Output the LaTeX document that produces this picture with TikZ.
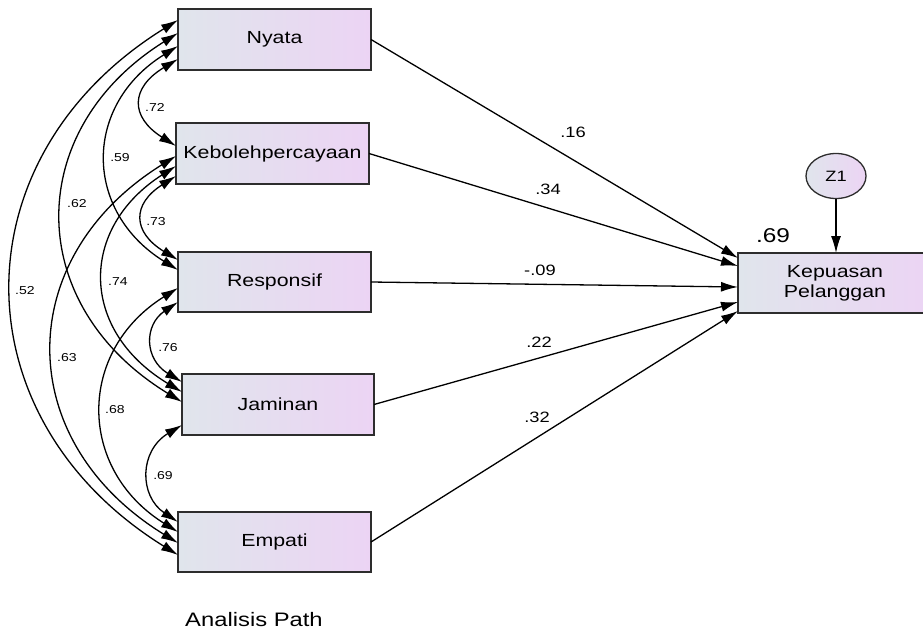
\documentclass[tikz,border=0pt]{standalone}
\usepackage{fontspec}
\setmainfont{Liberation Sans}
\newfontfamily\labfont[FakeStretch=1.22]{Liberation Sans}
\usetikzlibrary{arrows.meta,shapes.geometric}
\definecolor{gleft}{RGB}{224,229,236}
\definecolor{gright}{RGB}{236,212,244}
\definecolor{edge}{RGB}{45,45,45}
\tikzset{
  varbox/.style={draw=edge, line width=1.5pt, left color=gleft, right color=gright,
    minimum width=193pt, minimum height=61pt, inner sep=0pt, outer sep=0pt,
    font=\labfont\fontsize{17.5}{21}\selectfont, align=center},
  tip/.tip={Latex[length=17pt,width=10pt]},
  cov/.style={line width=1.3pt, tip-tip},
  path/.style={line width=1.3pt, -tip},
  small/.style={font=\labfont\fontsize{11.5}{12}\selectfont, inner sep=0pt},
  plab/.style={font=\labfont\fontsize{15}{16}\selectfont, inner sep=0pt}
}
\begin{document}
\begin{tikzpicture}[x=1pt,y=-1pt]
\useasboundingbox (0,0) rectangle (923,634);
% boxes
\node[varbox] (ny) at (274.5,39.5) {Nyata};
\node[varbox] (kb) at (272.5,153.5) {Kebolehpercayaan};
\node[varbox, minimum height=60pt] (rs) at (274.5,282) {Responsif};
\node[varbox, minimum width=192pt] (jm) at (278,404.5) {Jaminan};
\node[varbox, minimum height=60pt] (em) at (274.5,542) {Empati};
\node[varbox, minimum width=194pt, minimum height=60pt] (kp) at (835,283) {Kepuasan\\[-1pt]Pelanggan};
\node[draw=edge, line width=1.3pt, left color=gleft, right color=gright,
      ellipse, minimum width=60pt, minimum height=45pt, inner sep=0pt,
      font=\labfont\fontsize{15}{16}\selectfont] (z1) at (836,176) {Z1};
% endpoints on left edges
\coordinate (ny52) at ([yshift=-11pt]ny.north west);
\coordinate (ny62) at ([yshift=-24pt]ny.north west);
\coordinate (ny59) at ([yshift=-37pt]ny.north west);
\coordinate (ny72) at ([yshift=-50pt]ny.north west);
\coordinate (kb72) at ([yshift=-23pt]kb.north west);
\coordinate (kb63) at ([yshift=-33pt]kb.north west);
\coordinate (kb74) at ([yshift=-43pt]kb.north west);
\coordinate (kb73) at ([yshift=-53pt]kb.north west);
\coordinate (rs73) at ([yshift=-8pt]rs.north west);
\coordinate (rs59) at ([yshift=-18pt]rs.north west);
\coordinate (rs68) at ([yshift=-36pt]rs.north west);
\coordinate (rs76) at ([yshift=-50pt]rs.north west);
\coordinate (jm76) at ([yshift=-8pt]jm.north west);
\coordinate (jm74) at ([yshift=-18pt]jm.north west);
\coordinate (jm62) at ([yshift=-28pt]jm.north west);
\coordinate (jm69) at ([yshift=-51pt]jm.north west);
\coordinate (em69) at ([yshift=-10pt]em.north west);
\coordinate (em68) at ([yshift=-20pt]em.north west);
\coordinate (em63) at ([yshift=-31pt]em.north west);
\coordinate (em52) at ([yshift=-43pt]em.north west);
% covariances
\draw[cov] (ny52) .. controls +(-221,137) and +(-221,-137) .. (em52);
\draw[cov] (ny62) .. controls +(-155,97) and +(-159,-97) .. (jm62);
\draw[cov] (kb63) .. controls +(-164,102) and +(-166,-102) .. (em63);
\draw[cov] (ny59) .. controls +(-95,59) and +(-95,-59) .. (rs59);
\draw[cov] (kb74) .. controls +(-97,62) and +(-103,-62) .. (jm74);
\draw[cov] (rs68) .. controls +(-101,63) and +(-101,-63) .. (em68);
\draw[cov] (ny72) .. controls +(-48,29) and +(-46,-29) .. (kb72);
\draw[cov] (kb73) .. controls +(-44,28) and +(-46,-28) .. (rs73);
\draw[cov] (rs76) .. controls +(-34,23) and +(-38,-23) .. (jm76);
\draw[cov] (jm69) .. controls +(-43,26) and +(-39,-26) .. (em69);
% covariance labels
\node[small] (l72) at (155,107) {.72};
\node[small] (l59) at (120,158) {.59};
\node[small] (l62) at (77,204) {.62};
\node[small] (l52) at (25,291) {.52};
\node[small] (l73) at (156,222) {.73};
\node[small] (l74) at (118,282) {.74};
\node[small] (l63) at (67,358) {.63};
\node[small] (l76) at (168,348) {.76};
\node[small] (l68) at (115,410) {.68};
\node[small] (l69) at (163,476) {.69};
% path endpoints
\coordinate (kp1) at ([yshift=-5pt]kp.north west);
\coordinate (kp2) at ([yshift=-13pt]kp.north west);
\coordinate (kp3) at ([yshift=-34pt]kp.north west);
\coordinate (kp4) at ([yshift=-49pt]kp.north west);
\coordinate (kp5) at ([yshift=-58pt]kp.north west);
\draw[path] (ny.east) -- (kp1);
\draw[path] (kb.east) -- (kp2);
\draw[path] (rs.east) -- (kp3);
\draw[path] (jm.east) -- (kp4);
\draw[path] (em.east) -- (kp5);
\draw[path] (z1.south) -- (kp.north -| z1.south);
% path labels
\node[plab] (p16) at (573,132) {.16};
\node[plab] (p34) at (548,189) {.34};
\node[plab] (p09) at (540,270) {-.09};
\node[plab] (p22) at (539,342) {.22};
\node[plab] (p32) at (537,417) {.32};
\node[font=\labfont\fontsize{20}{22}\selectfont, inner sep=0pt] (r2) at (773,236) {.69};
\node[font=\labfont\fontsize{19.5}{22}\selectfont, inner sep=0pt] (title) at (254,620) {Analisis Path};
\end{tikzpicture}
\end{document}
